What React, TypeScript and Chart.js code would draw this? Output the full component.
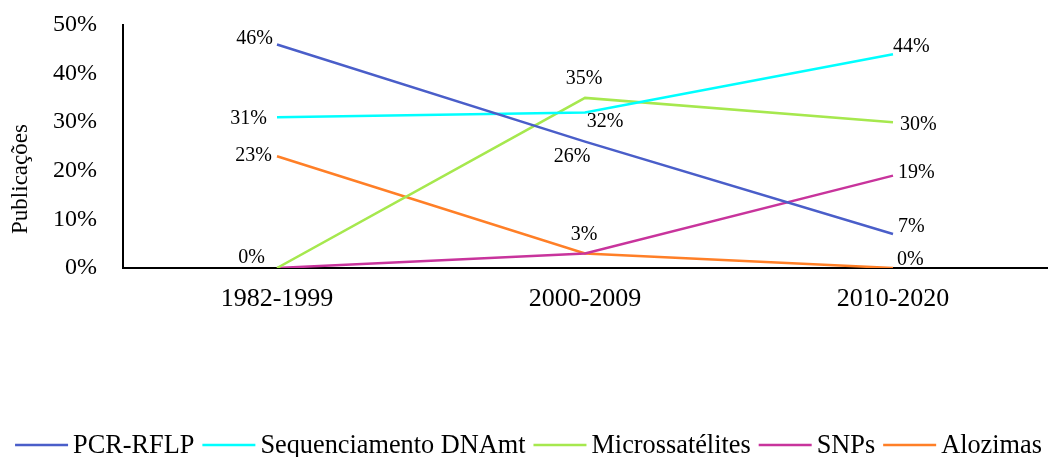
import { useEffect, useRef } from 'react';
import { Chart, registerables } from 'chart.js';

Chart.register(...registerables);

// Share of publications (%) per technique and period
const categories = ['1982-1999', '2000-2009', '2010-2020'];
const pcrRflp = [46, 26, 7];
const sequenciamentoDNAmt = [31, 32, 44];
const microssatelites = [0, 35, 30];
const snps = [0, 3, 19];
const alozimas = [23, 3, 0];

const seriesNames = ['PCR-RFLP', 'Sequenciamento DNAmt', 'Microssatélites', 'SNPs', 'Alozimas'];
const seriesValues = [pcrRflp, sequenciamentoDNAmt, microssatelites, snps, alozimas];
const seriesColors = ['#4A5EC9', '#00FFFF', '#A6E84E', '#C8349C', '#FF7F27'];

const yTickStep = 10;
const yMax = 50;
const yTitle = 'Publicações';

// Value label placement for each point: [textAlign, dx, dy] relative to the point, or null (not shown)
type LabelPos = [CanvasTextAlign, number, number] | null;
const labelPlacement: LabelPos[][] = [
  [['right', -4, -6], ['center', -13, 15], ['left', 5, -7]],
  [['right', -10, 1], ['center', 20, 9], ['left', 0, -7]],
  [['right', -12, -10], ['center', -1, -19], ['left', 7, 3]],
  [null, ['center', -1, -19], ['left', 5, -3]],
  [['right', -5, 0], null, ['left', 4, -8]],
];

const FONT = "'Liberation Serif', 'Times New Roman', serif";

const valueLabels = {
  id: 'valueLabels',
  afterDatasetsDraw(chart: Chart) {
    const ctx = chart.ctx;
    ctx.save();
    ctx.font = `20px ${FONT}`;
    ctx.fillStyle = '#000';
    ctx.textBaseline = 'middle';
    chart.data.datasets.forEach((ds, i) => {
      const meta = chart.getDatasetMeta(i);
      meta.data.forEach((pt, j) => {
        const pos = labelPlacement[i]?.[j];
        if (!pos) return;
        const [align, dx, dy] = pos;
        ctx.textAlign = align;
        ctx.fillText(`${ds.data[j]}%`, pt.x + dx, pt.y + dy);
      });
    });
    ctx.restore();
  },
};

const yAxisTitle = {
  id: 'yAxisTitle',
  afterDraw(chart: Chart) {
    const ctx = chart.ctx;
    ctx.save();
    ctx.translate(27, 179);
    ctx.rotate(-Math.PI / 2);
    ctx.font = `23px ${FONT}`;
    ctx.fillStyle = '#000';
    ctx.textAlign = 'center';
    ctx.textBaseline = 'alphabetic';
    ctx.fillText(yTitle, 0, 0);
    ctx.restore();
  },
};

const lineLegend = {
  id: 'lineLegend',
  afterDraw(chart: Chart) {
    const ctx = chart.ctx;
    const lineW = 53;
    const gap = 5;
    const spacing = 8;
    const cy = 446;
    ctx.save();
    ctx.font = `26.3px ${FONT}`;
    const items = chart.data.datasets.map((ds) => ({
      text: String(ds.label),
      color: String(ds.borderColor),
      w: ctx.measureText(String(ds.label)).width,
    }));
    const total = items.reduce((s, it) => s + lineW + gap + it.w, 0) + spacing * (items.length - 1);
    let x = chart.width / 2 + 3 - total / 2;
    ctx.textBaseline = 'middle';
    ctx.textAlign = 'left';
    items.forEach((it) => {
      ctx.strokeStyle = it.color;
      ctx.lineWidth = 2.5;
      ctx.beginPath();
      ctx.moveTo(x, cy - 1);
      ctx.lineTo(x + lineW, cy - 1);
      ctx.stroke();
      x += lineW + gap;
      ctx.fillStyle = '#000';
      ctx.fillText(it.text, x, cy);
      x += it.w + spacing;
    });
    ctx.restore();
  },
};

export default function App() {
  const canvasRef = useRef<HTMLCanvasElement>(null);

  useEffect(() => {
    if (!canvasRef.current) return;
    Chart.defaults.font.family = FONT;
    Chart.defaults.color = '#000';
    const chart = new Chart(canvasRef.current, {
      type: 'line',
      data: {
        labels: categories,
        datasets: seriesNames.map((name, i) => ({
          label: name,
          data: seriesValues[i],
          borderColor: seriesColors[i],
          backgroundColor: seriesColors[i],
          borderWidth: 2.5,
          pointRadius: 0,
          pointHoverRadius: 0,
          tension: 0,
          fill: false,
        })),
      },
      options: {
        animation: false,
        responsive: true,
        maintainAspectRatio: false,
        layout: { autoPadding: false, padding: { top: 25, right: 4, bottom: 0, left: 0 } },
        plugins: {
          legend: { display: false },
          title: { display: false },
          tooltip: { enabled: false },
        },
        scales: {
          x: {
            type: 'category',
            offset: true,
            grid: { display: false, drawTicks: false },
            border: { display: true, color: '#000', width: 2 },
            ticks: { color: '#000', font: { size: 26, family: FONT }, padding: 16, maxRotation: 0 },
            afterFit(scale: any) {
              scale.height = 189;
              scale.paddingLeft = 0;
              scale.paddingRight = 0;
            },
          },
          y: {
            min: 0,
            max: yMax,
            grid: { display: false, drawTicks: false },
            border: { display: true, color: '#000', width: 2 },
            ticks: {
              stepSize: yTickStep,
              color: '#000',
              font: { size: 24, family: FONT },
              padding: 26,
              callback: (v: any) => `${v}%`,
            },
            afterFit(scale: any) {
              scale.width = 123;
              scale.paddingTop = 0;
              scale.paddingBottom = 0;
            },
          },
        },
      },
      plugins: [valueLabels, yAxisTitle, lineLegend],
    });
    return () => chart.destroy();
  }, []);

  return (
    <div style={{ position: 'absolute', left: 0, top: 0, width: 1051, height: 457, background: '#fff' }}>
      <canvas ref={canvasRef} />
    </div>
  );
}
